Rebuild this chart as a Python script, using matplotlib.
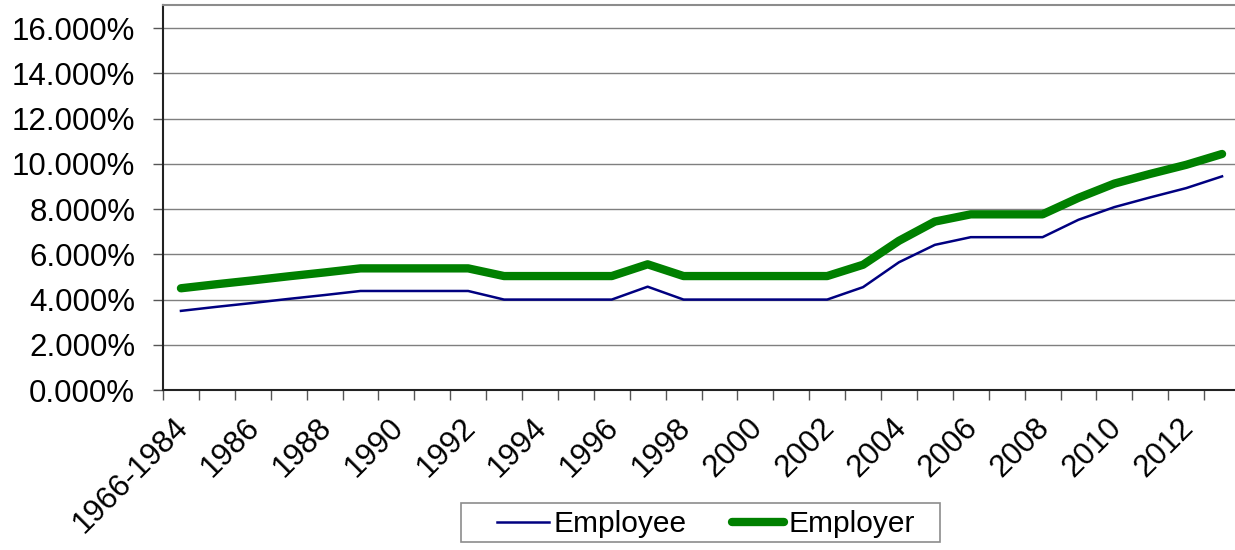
import matplotlib
matplotlib.use("Agg")
import matplotlib.pyplot as plt
import matplotlib.transforms as mtransforms
from matplotlib.patches import Rectangle
from matplotlib.ticker import FuncFormatter, FixedLocator

plt.rcParams['font.family'] = ['Liberation Sans', 'DejaVu Sans']

categories = ['1966-1984'] + [str(y) for y in range(1985, 2014)]
employee = [3.50, 3.68, 3.85, 4.03, 4.20, 4.38, 4.38, 4.38, 4.38, 4.00,
            4.00, 4.00, 4.00, 4.57, 4.00, 4.00, 4.00, 4.00, 4.00, 4.55,
            5.65, 6.42, 6.76, 6.76, 6.76, 7.53, 8.09, 8.52, 8.93, 9.45]
employer = [4.50, 4.68, 4.85, 5.03, 5.20, 5.38, 5.38, 5.38, 5.38, 5.04,
            5.04, 5.04, 5.04, 5.56, 5.04, 5.04, 5.04, 5.04, 5.04, 5.54,
            6.60, 7.45, 7.77, 7.77, 7.77, 8.50, 9.13, 9.56, 9.96, 10.44]
y_ticks = [0, 2, 4, 6, 8, 10, 12, 14, 16]

W, H = 1235, 550
fig = plt.figure(figsize=(W / 100, H / 100), dpi=100)
ax = fig.add_axes([163 / W, 1 - 390 / H, (1240 - 163) / W, 385 / H])

x = list(range(len(categories)))
ax.plot(x, employee, color='#000080', lw=1.8, label='Employee', zorder=3)
ax.plot(x, employer, color='#008000', lw=6, label='Employer',
        solid_capstyle='round', zorder=3)

ax.set_xlim(-0.5, len(categories) - 0.5)
ax.set_ylim(0, 17.03)

ax.yaxis.set_major_locator(FixedLocator(y_ticks))
ax.yaxis.set_major_formatter(FuncFormatter(lambda v, p: f'{v:.3f}%'))
ax.grid(axis='y', color='#7f7f7f', lw=1.0, zorder=1)
ax.tick_params(axis='y', direction='out', length=7, width=1, color='#555555',
               labelsize=22.5, pad=13)

# labels at every other category, tick marks at category boundaries
ax.set_xticks(x[::2])
ax.set_xticklabels(categories[::2], rotation=45, ha='right', va='top',
                   rotation_mode='anchor', fontsize=22.5)
ax.tick_params(axis='x', which='major', length=0, pad=16)
shift = mtransforms.ScaledTranslation(-8 / 100, 0, fig.dpi_scale_trans)
for lbl in ax.get_xticklabels():
    lbl.set_transform(lbl.get_transform() + shift)
ax.set_xticks([i - 0.5 for i in range(len(categories) + 1)], minor=True)
ax.tick_params(axis='x', which='minor', direction='out', length=7, width=1,
               color='#555555')

for side in ('left', 'bottom'):
    ax.spines[side].set_color('#222222')
    ax.spines[side].set_linewidth(1.5)
for side in ('top', 'right'):
    ax.spines[side].set_color('#8c8c8c')
    ax.spines[side].set_linewidth(1.5)

# legend box drawn separately so its padding can be wider than tall
fig.patches.append(Rectangle((461 / W, 1 - 542 / H), (940 - 461) / W, 39 / H,
                             transform=fig.transFigure, fill=False,
                             edgecolor='#8c8c8c', lw=1.2))
fig.legend(loc='center', bbox_to_anchor=(706 / W, 1 - 524 / H),
           ncol=2, fontsize=21.5, frameon=False,
           handlelength=1.75, handletextpad=0.15, columnspacing=1.5,
           borderpad=0.0, borderaxespad=0)

fig.savefig('out.png', dpi=100)
